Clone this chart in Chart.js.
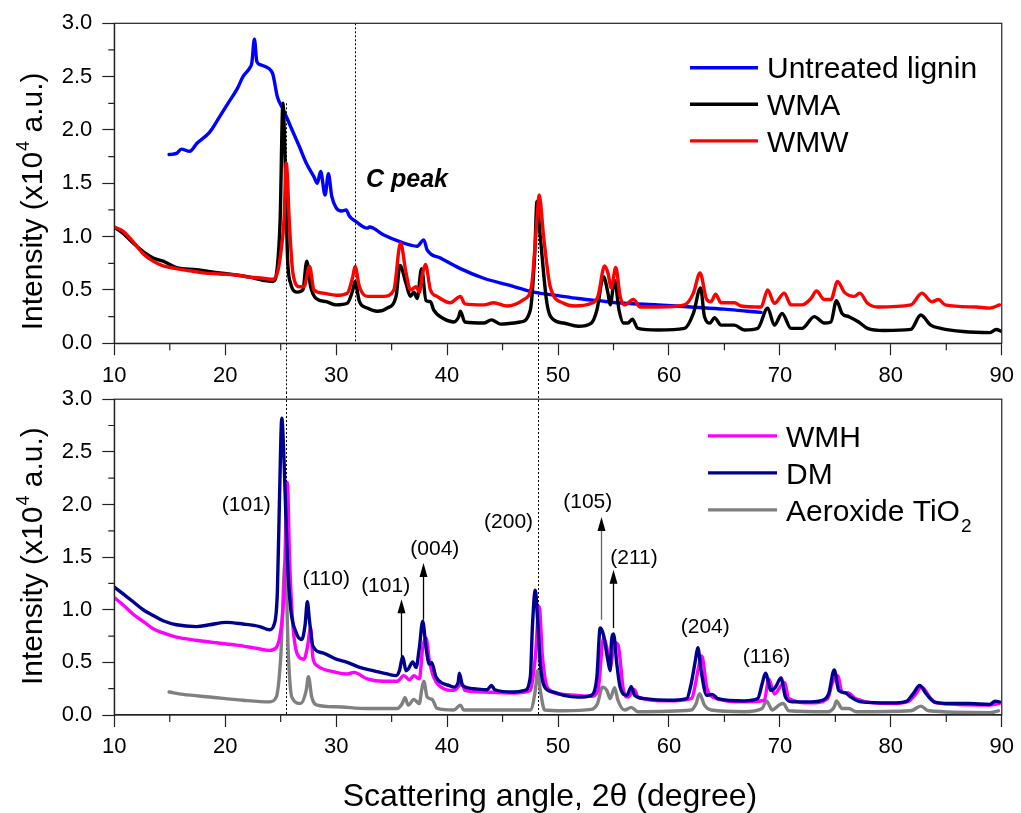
<!DOCTYPE html>
<html><head><meta charset="utf-8">
<script src="https://cdn.jsdelivr.net/npm/chart.js@4.4.1/dist/chart.umd.min.js"></script>
<style>
html,body{margin:0;padding:0;background:#fff;}
#wrap{position:relative;width:1021px;height:813px;overflow:hidden;background:#fff;}
canvas{position:absolute;left:0;}
#c1{top:0;} #c2{top:376px;}
</style></head><body>
<div id="wrap"><canvas id="c1" width="1021" height="392"></canvas><canvas id="c2" width="1021" height="437"></canvas></div>
<script>
// ---------- DATA (2θ in degrees, intensity in 10^4 a.u.) ----------
const xTicks = [10, 20, 30, 40, 50, 60, 70, 80, 90];
const yTicks = [0.0, 0.5, 1.0, 1.5, 2.0, 2.5, 3.0];

const ligninPts = [[14.94,1.77],[15.6,1.78],[16.05,1.82],[16.8,1.80],[17.45,1.875],[18.6,1.98],[19.5,2.125],[20.25,2.25],[21.1,2.39],[21.6,2.5],[22.2,2.58],[22.4,2.63],[22.63,2.85],[22.85,2.64],[23.2,2.61],[23.7,2.59],[24.1,2.56],[24.3,2.52],[24.7,2.31],[25.2,2.2],[25.9,2.03],[26.7,1.84],[27.3,1.69],[28.0,1.56],[28.3,1.5],[28.6,1.61],[29.0,1.39],[29.3,1.59],[29.6,1.38],[30.0,1.27],[30.5,1.24],[30.9,1.25],[31.2,1.19],[31.8,1.14],[32.8,1.08],[33.0,1.09],[34.3,1.015],[35.8,0.95],[37.3,0.91],[37.9,0.97],[38.2,0.875],[39.4,0.80],[41.2,0.70],[43.3,0.61],[45.4,0.55],[47.8,0.48],[50.0,0.447],[51.8,0.42],[53.6,0.40],[56.0,0.375],[59.0,0.36],[62.0,0.34],[65.0,0.32],[67.1,0.30],[68.3,0.29]];

const wmaPts = [[10,1.09],[10.8,1.03],[11.7,0.94],[12.6,0.86],[13.5,0.80],[14.4,0.77],[15.6,0.71],[17.4,0.69],[19.5,0.66],[21.0,0.64],[22.2,0.62],[23.4,0.59],[24.3,0.58],[24.7,0.72],[24.95,1.16],[25.2,2.25],[25.4,1.72],[25.6,0.84],[25.9,0.56],[26.5,0.48],[27.0,0.5],[27.35,0.77],[27.7,0.53],[28.2,0.42],[29.1,0.39],[30.0,0.36],[31.0,0.375],[31.5,0.5],[31.7,0.58],[32.1,0.39],[32.8,0.33],[33.7,0.30],[34.6,0.33],[35.4,0.44],[35.75,0.73],[36.3,0.56],[36.7,0.44],[37.0,0.48],[37.3,0.42],[37.7,0.70],[38.1,0.40],[38.5,0.39],[38.8,0.31],[39.7,0.23],[40.6,0.2],[41.05,0.25],[41.2,0.30],[41.6,0.2],[43.3,0.19],[44.0,0.22],[44.8,0.18],[46.6,0.2],[47.5,0.31],[47.9,0.84],[48.1,1.33],[48.4,1.0],[49.0,0.375],[49.6,0.22],[50.5,0.19],[51.8,0.16],[53.0,0.19],[53.5,0.31],[54.1,0.625],[54.5,0.47],[54.7,0.36],[55.1,0.59],[55.5,0.31],[55.9,0.19],[56.3,0.19],[56.7,0.225],[57.2,0.14],[59.0,0.125],[61.4,0.14],[62.2,0.28],[62.85,0.52],[63.2,0.25],[63.7,0.19],[64.1,0.24],[64.7,0.17],[65.9,0.17],[66.8,0.125],[68.0,0.14],[68.9,0.33],[69.5,0.17],[70.2,0.28],[71.0,0.14],[72.0,0.14],[73.1,0.25],[74.0,0.19],[74.6,0.20],[75.1,0.40],[75.6,0.28],[76.2,0.25],[77.1,0.20],[77.9,0.14],[79.4,0.12],[81.8,0.13],[82.7,0.265],[83.6,0.17],[84.5,0.14],[86.5,0.11],[88.9,0.10],[89.5,0.13],[90,0.11]];

const wmwPts = [[10,1.09],[10.8,1.05],[11.7,0.95],[12.6,0.84],[13.5,0.77],[14.4,0.725],[15.6,0.70],[16.8,0.68],[18.0,0.66],[19.5,0.65],[21.0,0.64],[22.2,0.62],[23.4,0.61],[24.3,0.60],[24.7,0.66],[25.0,0.84],[25.3,1.16],[25.5,1.69],[25.8,1.09],[26.1,0.66],[26.7,0.53],[27.1,0.53],[27.6,0.72],[28.0,0.50],[28.8,0.47],[30.0,0.45],[31.0,0.47],[31.5,0.625],[31.7,0.72],[32.1,0.53],[32.8,0.44],[34.3,0.44],[35.2,0.5],[35.8,0.94],[36.3,0.66],[36.7,0.5],[37.2,0.53],[37.5,0.48],[37.8,0.66],[38.05,0.74],[38.5,0.5],[39.1,0.44],[40.3,0.38],[41.2,0.44],[41.6,0.37],[43.3,0.36],[44.2,0.38],[45.4,0.35],[46.9,0.41],[47.6,0.53],[48.1,1.16],[48.3,1.39],[48.7,1.0],[49.3,0.53],[50.5,0.375],[51.5,0.35],[53.0,0.375],[53.6,0.44],[54.2,0.725],[54.5,0.66],[54.8,0.52],[55.2,0.71],[55.6,0.44],[56.0,0.36],[56.8,0.41],[57.4,0.34],[59.0,0.34],[61.4,0.36],[62.2,0.47],[62.8,0.66],[63.4,0.41],[63.8,0.39],[64.2,0.46],[64.7,0.38],[65.9,0.38],[66.5,0.35],[68.3,0.34],[68.9,0.5],[69.5,0.375],[70.4,0.47],[71.0,0.36],[72.0,0.36],[72.8,0.42],[73.3,0.49],[74.0,0.41],[74.6,0.41],[75.2,0.58],[75.8,0.48],[76.7,0.44],[77.2,0.47],[77.9,0.375],[78.8,0.34],[81.8,0.36],[82.8,0.47],[83.7,0.39],[84.3,0.41],[84.9,0.36],[87.7,0.34],[88.9,0.33],[89.8,0.36]];

const wmhPts = [[10,1.116],[10.8,1.045],[11.7,0.957],[12.6,0.889],[13.5,0.82],[14.4,0.78],[15.6,0.74],[17.4,0.71],[19.2,0.686],[21.0,0.664],[22.5,0.64],[24.0,0.614],[24.6,0.64],[25.0,0.795],[25.3,1.17],[25.6,2.21],[25.8,1.48],[26.1,0.857],[26.5,0.577],[27.1,0.53],[27.4,0.64],[27.7,0.826],[27.9,0.546],[28.3,0.468],[30.0,0.405],[31.0,0.39],[31.6,0.405],[32.8,0.343],[34.3,0.32],[35.5,0.32],[36.1,0.374],[36.6,0.334],[37.0,0.374],[37.5,0.343],[37.8,0.64],[38.1,0.733],[38.4,0.515],[38.8,0.358],[39.7,0.25],[40.6,0.234],[41.35,0.296],[41.6,0.234],[43.3,0.218],[46.0,0.209],[47.5,0.234],[47.95,0.546],[48.3,1.03],[48.6,0.546],[49.1,0.25],[50.5,0.196],[53.0,0.178],[53.6,0.234],[54.1,0.733],[54.4,0.64],[54.7,0.452],[55.1,0.686],[55.4,0.67],[55.9,0.234],[56.3,0.17],[56.9,0.24],[57.2,0.17],[59.9,0.134],[62.0,0.156],[62.8,0.515],[62.96,0.56],[63.4,0.265],[63.95,0.17],[66.8,0.125],[68.6,0.14],[69.0,0.343],[69.5,0.2],[70.4,0.31],[70.8,0.156],[72.8,0.115],[74.3,0.156],[74.7,0.296],[75.2,0.374],[75.6,0.218],[76.2,0.21],[76.8,0.156],[80.0,0.109],[81.6,0.13],[82.1,0.18],[82.8,0.265],[83.5,0.17],[84.1,0.115],[88.9,0.094],[89.8,0.11]];

const dmPts = [[10,1.216],[10.8,1.15],[11.7,1.076],[12.6,1.0],[13.5,0.945],[14.4,0.895],[15.6,0.857],[17.4,0.84],[18.6,0.857],[20.1,0.88],[21.6,0.864],[23.1,0.84],[24.0,0.81],[24.4,0.857],[24.7,1.17],[24.9,2.1],[25.1,2.82],[25.3,2.42],[25.6,1.48],[25.9,1.01],[26.4,0.78],[26.9,0.717],[27.2,0.857],[27.4,1.076],[27.6,0.89],[27.9,0.655],[28.8,0.59],[30.0,0.53],[31.0,0.50],[32.2,0.45],[33.4,0.42],[34.6,0.39],[35.4,0.374],[35.7,0.42],[36.0,0.555],[36.3,0.42],[36.5,0.437],[36.9,0.505],[37.2,0.452],[37.5,0.64],[37.8,0.89],[38.1,0.64],[38.4,0.483],[38.6,0.5],[39.0,0.36],[39.7,0.296],[40.2,0.28],[40.6,0.265],[41.0,0.312],[41.1,0.396],[41.4,0.28],[42.4,0.25],[43.6,0.24],[44.0,0.28],[44.3,0.24],[46.0,0.218],[47.0,0.234],[47.5,0.36],[47.7,0.86],[47.95,1.185],[48.15,0.92],[48.4,0.48],[48.8,0.265],[49.6,0.218],[50.5,0.187],[51.8,0.17],[53.0,0.187],[53.5,0.36],[53.8,0.826],[54.1,0.758],[54.5,0.515],[54.7,0.42],[54.8,0.67],[55.0,0.77],[55.3,0.483],[55.6,0.265],[56.2,0.187],[56.6,0.27],[56.9,0.187],[57.8,0.156],[59.9,0.14],[61.6,0.156],[62.0,0.296],[62.4,0.53],[62.6,0.64],[62.9,0.42],[63.4,0.187],[63.9,0.196],[64.4,0.156],[66.8,0.134],[68.0,0.156],[68.4,0.296],[68.7,0.396],[69.2,0.234],[69.6,0.265],[70.1,0.352],[70.5,0.17],[71.1,0.125],[72.8,0.125],[74.0,0.147],[74.4,0.2],[74.9,0.427],[75.3,0.234],[75.9,0.21],[76.4,0.17],[77.3,0.125],[80.0,0.115],[81.4,0.13],[82.0,0.2],[82.6,0.28],[83.2,0.2],[83.9,0.125],[85.3,0.109],[87.1,0.109],[88.9,0.1],[89.4,0.13],[89.8,0.125]];

const tio2Pts = [[14.94,0.218],[16.2,0.196],[18.6,0.171],[21.6,0.14],[24.0,0.125],[24.6,0.17],[25.0,0.546],[25.4,1.45],[25.7,0.546],[26.0,0.17],[26.8,0.11],[27.3,0.234],[27.5,0.365],[27.8,0.17],[28.3,0.094],[30.0,0.078],[32.8,0.062],[35.5,0.062],[35.96,0.109],[36.2,0.165],[36.5,0.094],[37.0,0.147],[37.5,0.109],[37.7,0.234],[37.9,0.32],[38.2,0.17],[38.65,0.147],[39.1,0.062],[40.6,0.047],[41.2,0.094],[41.5,0.047],[44.2,0.047],[47.5,0.047],[47.95,0.234],[48.15,0.42],[48.4,0.234],[48.8,0.047],[50.5,0.04],[53.0,0.053],[53.56,0.109],[54.0,0.265],[54.4,0.234],[54.7,0.156],[55.1,0.26],[55.4,0.14],[56.0,0.047],[56.6,0.072],[57.2,0.031],[62.0,0.047],[62.45,0.109],[62.75,0.203],[63.2,0.094],[63.8,0.047],[66.8,0.031],[68.4,0.062],[68.8,0.134],[69.3,0.047],[70.0,0.1],[70.3,0.109],[70.8,0.04],[74.3,0.031],[74.9,0.078],[75.1,0.134],[75.6,0.062],[76.2,0.062],[76.9,0.031],[81.8,0.04],[82.7,0.084],[83.4,0.04],[88.9,0.022],[89.7,0.04]];

// Miller-index labels of the anatase reflections (bottom panel)
const hklText = ['(101)','(110)','(101)','(004)','(200)','(105)','(211)','(204)','(116)'];
const hklX    = [21.9, 29.1, 34.46, 38.89, 45.54, 52.68, 56.85, 63.27, 68.8];
const hklY    = [1.99, 1.29, 1.225, 1.576, 1.83, 2.02, 1.49, 0.833, 0.552];
// arrows: x, start, tip
const arrowX    = [35.84, 37.81, 53.83, 54.97];
const arrowFrom = [0.51, 0.905, 0.905, 0.826];
const arrowTo   = [1.10, 1.443, 1.88, 1.38];
// dotted reference lines
const sharedRefX   = [25.45, 48.2];
const sharedRefTop = [2.25, 1.39];
const cPeakX = 31.7;

// ---------- RENDERING ----------
const FONT = '"Liberation Sans", Arial, Helvetica, sans-serif';
const toXY = pts => pts.map(p => ({x: p[0], y: p[1]}));

function drawYTitle(ctx, bx, by) {
  ctx.save();
  ctx.translate(bx, by); ctx.rotate(-Math.PI / 2);
  ctx.fillStyle = '#000'; ctx.textAlign = 'left'; ctx.textBaseline = 'alphabetic';
  ctx.font = '30px ' + FONT;
  const t1 = 'Intensity (x10';
  ctx.fillText(t1, 0, 0);
  let w = ctx.measureText(t1).width;
  ctx.font = '18px ' + FONT;
  ctx.fillText('4', w + 1, -13);
  w += ctx.measureText('4').width + 1;
  ctx.font = '30px ' + FONT;
  ctx.fillText(' a.u.)', w, 0);
  ctx.restore();
}

const panelPlugin = {
  id: 'panel',
  beforeDatasetsDraw(chart, args, o) {
    const {ctx, chartArea: a, scales: {x, y}} = chart;
    ctx.save();
    ctx.strokeStyle = '#000'; ctx.lineWidth = 1; ctx.setLineDash([2, 2]);
    ctx.beginPath();
    if (o.top) {
      sharedRefX.forEach((v, i) => {
        const px = Math.round(x.getPixelForValue(v)) + 0.5;
        ctx.moveTo(px, y.getPixelForValue(sharedRefTop[i])); ctx.lineTo(px, chart.height);
      });
      const pc = Math.round(x.getPixelForValue(cPeakX)) + 0.5;
      ctx.moveTo(pc, a.top); ctx.lineTo(pc, a.bottom);
    } else {
      sharedRefX.forEach(v => {
        const px = Math.round(x.getPixelForValue(v)) + 0.5;
        ctx.moveTo(px, 16); ctx.lineTo(px, a.bottom);
      });
    }
    ctx.stroke();
    ctx.restore();
  },
  afterDraw(chart, args, o) {
    const {ctx, chartArea: a, scales: {x, y}} = chart;
    ctx.save();
    // frame
    ctx.strokeStyle = '#222'; ctx.lineWidth = 1.2;
    ctx.strokeRect(a.left, a.top, a.right - a.left, a.bottom - a.top);
    // minor ticks
    ctx.beginPath();
    for (let i = 0; i < xTicks.length - 1; i++) {
      const px = x.getPixelForValue((xTicks[i] + xTicks[i + 1]) / 2);
      ctx.moveTo(px, a.bottom); ctx.lineTo(px, a.bottom + 7);
    }
    for (let i = 0; i < yTicks.length - 1; i++) {
      const py = y.getPixelForValue((yTicks[i] + yTicks[i + 1]) / 2);
      ctx.moveTo(a.left, py); ctx.lineTo(a.left - 6, py);
    }
    ctx.stroke();

    // legend
    const L = o.legend;
    L.order.forEach((di, k) => {
      const ds = chart.data.datasets[di];
      const yl = a.top + L.lineY + k * L.step;
      ctx.strokeStyle = ds.borderColor; ctx.lineWidth = 3.4; ctx.setLineDash([]);
      ctx.beginPath(); ctx.moveTo(L.x0, yl); ctx.lineTo(L.x1, yl); ctx.stroke();
      ctx.fillStyle = '#000'; ctx.textAlign = 'left'; ctx.textBaseline = 'alphabetic';
      ctx.font = '30px ' + FONT;
      const yb = yl + 10.6;
      const lab = ds.label;
      if (lab.endsWith('TiO2')) {
        const main = lab.slice(0, -1);
        ctx.fillText(main, L.tx, yb);
        const w = ctx.measureText(main).width;
        ctx.font = '19px ' + FONT;
        ctx.fillText('2', w + L.tx + 1, yb + 11);
      } else {
        ctx.fillText(lab, L.tx, yb);
      }
    });

    // y title
    drawYTitle(ctx, 42, a.bottom + o.yTitleOffset);

    if (o.top) {
      ctx.font = 'italic bold 25px ' + FONT;
      ctx.fillStyle = '#000'; ctx.textAlign = 'left'; ctx.textBaseline = 'alphabetic';
      ctx.fillText('C peak', x.getPixelForValue(32.69), y.getPixelForValue(1.465));
    } else {
      // hkl labels
      ctx.font = '21px ' + FONT;
      ctx.fillStyle = '#000'; ctx.textAlign = 'center'; ctx.textBaseline = 'middle';
      hklText.forEach((t, i) => ctx.fillText(t, x.getPixelForValue(hklX[i]), y.getPixelForValue(hklY[i])));
      // arrows
      arrowX.forEach((v, i) => {
        const px = Math.round(x.getPixelForValue(v)) + 0.5;
        const y0 = y.getPixelForValue(arrowFrom[i]);
        const y1 = y.getPixelForValue(arrowTo[i]);
        ctx.strokeStyle = i === 2 ? '#666' : '#000'; ctx.lineWidth = 1.3;
        ctx.beginPath(); ctx.moveTo(px, y0); ctx.lineTo(px, y1 + 12); ctx.stroke();
        ctx.fillStyle = '#000';
        ctx.beginPath(); ctx.moveTo(px, y1); ctx.lineTo(px - 4, y1 + 14); ctx.lineTo(px + 4, y1 + 14); ctx.closePath(); ctx.fill();
      });
      // x title
      ctx.font = '32px ' + FONT;
      ctx.fillStyle = '#000'; ctx.textAlign = 'center'; ctx.textBaseline = 'alphabetic';
      ctx.fillText('Scattering angle, 2\u03B8 (degree)', 550, 430);
    }
    ctx.restore();
  }
};

function makeChart(id, datasets, cfg) {
  const axisCommon = {
    grid: { drawOnChartArea: false, drawTicks: true, tickLength: 12, color: '#222', tickWidth: 1.2 },
    border: { display: true, color: '#222', width: 1.2 }
  };
  datasets.forEach(d => {
    d.borderWidth = 3.4; d.pointRadius = 0; d.cubicInterpolationMode = 'monotone';
    d.borderJoinStyle = 'round'; d.borderCapStyle = 'round'; d.fill = false;
  });
  return new Chart(document.getElementById(id), {
    type: 'line',
    data: { datasets },
    options: {
      responsive: false, animation: false, devicePixelRatio: 1,
      layout: { padding: { top: cfg.padTop, right: 16, left: 0, bottom: 0 } },
      plugins: { legend: { display: false }, tooltip: { enabled: false }, panel: cfg },
      scales: {
        x: Object.assign({
          type: 'linear', min: xTicks[0], max: xTicks[xTicks.length - 1],
          afterFit: s => { s.height = cfg.xH; },
          afterBuildTicks: s => { s.ticks = xTicks.map(v => ({value: v})); },
          ticks: { font: { size: 22, family: FONT }, color: '#000', padding: 7, maxRotation: 0, autoSkip: false }
        }, axisCommon),
        y: Object.assign({
          type: 'linear', min: yTicks[0], max: yTicks[yTicks.length - 1],
          afterFit: s => { s.width = 114.3; },
          afterBuildTicks: s => { s.ticks = yTicks.map(v => ({value: v})); },
          ticks: { font: { size: 22, family: FONT }, color: '#000', padding: 10, callback: v => Number(v).toFixed(1) }
        }, axisCommon)
      }
    },
    plugins: [panelPlugin]
  });
}

makeChart('c1', [
  { label: 'Untreated lignin', data: toXY(ligninPts), borderColor: '#0000FF', order: 3 },
  { label: 'WMA', data: toXY(wmaPts), borderColor: '#000000', order: 2 },
  { label: 'WMW', data: toXY(wmwPts), borderColor: '#FF0000', order: 1 }
], { top: true, padTop: 23.3, xH: 48.7, yTitleOffset: -13,
     legend: { order: [0, 1, 2], x0: 690, x1: 758, tx: 767, lineY: 44.4, step: 36.6 } });

makeChart('c2', [
  { label: 'WMH', data: toXY(wmhPts), borderColor: '#FF00FF', order: 2 },
  { label: 'DM', data: toXY(dmPts), borderColor: '#000090', order: 1 },
  { label: 'Aeroxide TiO2', data: toXY(tio2Pts), borderColor: '#808080', order: 3 }
], { top: false, padTop: 18.3, xH: 98, yTitleOffset: -30,
     legend: { order: [0, 1, 2], x0: 708, x1: 777, tx: 786, lineY: 36.7, step: 37 } });
</script></body></html>
